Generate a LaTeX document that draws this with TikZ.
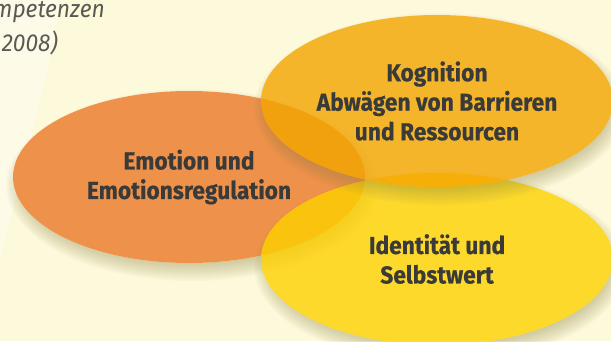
\documentclass[tikz,border=0pt]{standalone}
\usepackage{fontspec}
\setmainfont{Fira Sans}
\newfontfamily\labelfont[FakeStretch=0.93, BoldFeatures={FakeBold=0.4}]{Fira Sans}
\usetikzlibrary{shapes.geometric,calc}

\definecolor{paper}{RGB}{253,249,219}
\definecolor{emoorange}{RGB}{238,145,74}
\definecolor{kogamber}{RGB}{244,165,0}
\definecolor{identyellow}{RGB}{254,209,0}
\definecolor{labelgray}{RGB}{58,58,56}
\definecolor{captiongray}{RGB}{90,90,85}
\definecolor{shadowolive}{RGB}{145,136,71}

\tikzset{
  blob/.style={ellipse, minimum width=352pt, minimum height=172pt, inner sep=0pt,
    align=center, text=labelgray, text opacity=1,
    font=\labelfont\bfseries\fontsize{24.5}{29.5}\selectfont},
  caption/.style={inner sep=0pt, text=captiongray, font=\labelfont\itshape\fontsize{24.5}{28}\selectfont},
  softlayer/.style={shadowolive, fill opacity=0.038},
}

% soft drop shadow of an ellipse centred at #1, kept outside the ellipse itself
\newcommand\blobshadow[1]{%
  \begin{scope}[even odd rule]
    \clip (-20,-20) rectangle (631,361) (#1) ellipse [x radius=176pt, y radius=86pt];
    \foreach \k in {0,...,11}
      \fill[softlayer] ($(#1)+(3,8)$) ellipse [x radius={186pt-1.7pt*\k}, y radius={96pt-1.7pt*\k}];
  \end{scope}}

\begin{document}
\begin{tikzpicture}[x=1pt,y=-1pt]
  \useasboundingbox (0,0) rectangle (611,341);
  \clip (0,0) rectangle (611,341);

  % paper and the faint light band on the left
  \fill[paper] (0,0) rectangle (611,341);
  \fill[white, opacity=0.35] (0,0) -- (62,0) .. controls (45,85) and (20,180) .. (0,257) -- cycle;

  % caption running off the left edge
  \node[caption, anchor=base east] (capA) at (105,17) {mpetenzen};
  \node[caption, anchor=base east] (capB) at (58,51) {2008)};

  % centres of the three fields
  \coordinate (cE) at (189,177);
  \coordinate (cK) at (437,101);
  \coordinate (cI) at (437,259);

  % emotion (bottom layer)
  \blobshadow{cE}
  \node[blob, fill=emoorange] (emo) at (cE) {Emotion und\\Emotionsregulation};

  % identity
  \blobshadow{cI}
  \node[blob, fill=identyellow, fill opacity=0.8] (ident) at (cI) {Identität und\\Selbstwert};

  % cognition (top layer)
  \blobshadow{cK}
  \node[blob, fill=kogamber, fill opacity=0.8] (kog) at (cK) {Kognition\\Abwägen von Barrieren\\und Ressourcen};
\end{tikzpicture}
\end{document}
